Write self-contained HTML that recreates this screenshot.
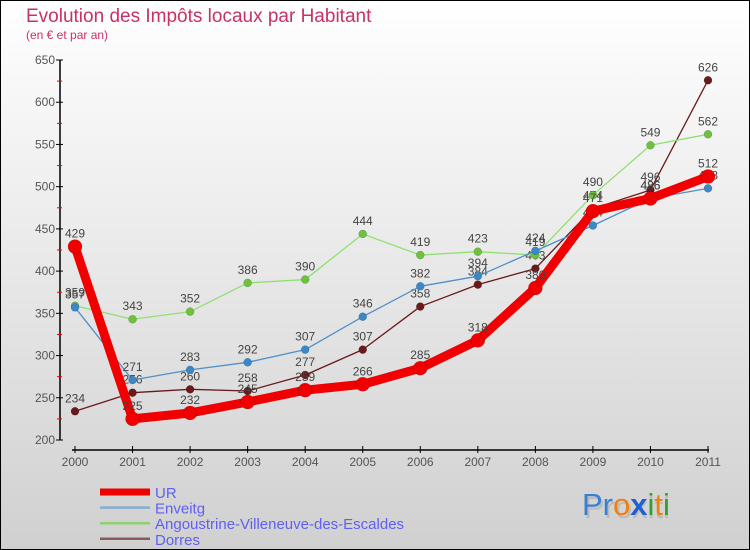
<!DOCTYPE html>
<html><head><meta charset="utf-8"><style>
body{margin:0;}
#c{width:750px;height:550px;position:relative;overflow:hidden;}
svg text{font-family:"Liberation Sans",sans-serif;}
</style></head><body>
<div id="c">
<svg id="s" width="750" height="550" xmlns="http://www.w3.org/2000/svg">
<defs><linearGradient id="bg" x1="0" y1="0" x2="0" y2="1"><stop offset="0" stop-color="#ffffff"/><stop offset="1" stop-color="#d0d0d0"/></linearGradient></defs>
<rect x="0.5" y="0.5" width="749" height="549" fill="url(#bg)" stroke="#000"/>
<text x="26" y="22" font-size="19" fill="#c8306a">Evolution des Impôts locaux par Habitant</text>
<text x="26" y="39" font-size="12" fill="#c8306a">(en € et par an)</text>
<g id="axes"></g><g id="series"></g><g id="legend"></g>
<g font-size="31" font-family="Liberation Sans">
<text x="584" y="518" fill="#999" opacity="0.4">Proxiti</text>
<text x="582" y="515"><tspan fill="#3a7fd0">Pr</tspan><tspan fill="#f08010">o</tspan><tspan fill="#2060d0" font-weight="bold">x</tspan><tspan fill="#30a030">i</tspan><tspan fill="#f08010">t</tspan><tspan fill="#30a030">i</tspan></text>
</g>
</svg></div>
<script>
const years=["2000","2001","2002","2003","2004","2005","2006","2007","2008","2009","2010","2011"];
const yTicks=[200,250,300,350,400,450,500,550,600,650];
const urValues=[429,225,232,245,259,266,285,318,380,471,486,512];
const enveitgValues=[357,271,283,292,307,346,382,394,424,454,486,498];
const angoustrineValues=[359,343,352,386,390,444,419,423,419,490,549,562];
const dorresValues=[234,256,260,258,277,307,358,384,403,474,496,626];
const NS="http://www.w3.org/2000/svg";
function xs(i){return 75+i*(708-75)/11;}
function ys(v){return 440-(v-200)*380/450;}
function mk(tag,attrs,parent){const e=document.createElementNS(NS,tag);for(const k in attrs)e.setAttribute(k,attrs[k]);parent.appendChild(e);return e;}
const axes=document.getElementById('axes');
let yl=mk('line',{x1:60,y1:60,x2:60,y2:440,stroke:'#000','stroke-width':1.5},axes);


yTicks.forEach(v=>{
 let t=mk('line',{x1:56,x2:63,y1:ys(v),y2:ys(v),stroke:'#000'},axes);
 
 
 if(v<650){let m=mk('line',{x1:57,x2:62,y1:ys(v+25),y2:ys(v+25),stroke:'#e00'},axes);
 
 }
 let l=mk('text',{x:55,y:ys(v)+4,'font-size':12,fill:'#555','text-anchor':'end'},axes);
 l.textContent=v;
 
 
});
let xl=mk('line',{x1:72,y1:450,x2:709,y2:450,stroke:'#000','stroke-width':1.5},axes);


years.forEach((y,i)=>{
 let t=mk('line',{x1:xs(i),x2:xs(i),y1:446,y2:453,stroke:'#000'},axes);
 
 
 let l=mk('text',{x:xs(i),y:466,'font-size':12,fill:'#555','text-anchor':'middle'},axes);
 l.textContent=y;
 
 
});
const series=[
 {name:'dorres',label:'Dorres',vals:dorresValues,color:'#6a1a1a',lc:'#8a5a5a',w:1.3,r:4},
 {name:'angoustrine',label:'Angoustrine-Villeneuve-des-Escaldes',vals:angoustrineValues,color:'#90e070',lc:'#90d070',mc:'#70c040',w:1.3,r:4},
 {name:'enveitg',label:'Enveitg',vals:enveitgValues,color:'#5090c8',lc:'#80b0d0',mc:'#3a88c8',w:1.3,r:4},
 {name:'ur',label:'UR',vals:urValues,color:'#f00000',lc:'#f00000',w:9,r:7}
];
const sg=document.getElementById('series');
series.forEach(s=>{
 const g=mk('g',{},sg);
 
 
 const p=mk('polyline',{points:s.vals.map((v,i)=>xs(i)+','+ys(v)).join(' '),fill:'none',stroke:s.color,'stroke-width':s.w,'stroke-linejoin':'round'},g);
 
 
 s.vals.forEach((v,i)=>{
  const c=mk('circle',{cx:xs(i),cy:ys(v),r:s.r,fill:s.mc||s.color,stroke:'rgba(0,0,0,0.25)','stroke-width':0.5},g);
  
  
  const t=mk('text',{x:xs(i),y:ys(v)-9,'font-size':12,fill:'#444','text-anchor':'middle'},g);
  t.textContent=v;
  
  
 });
});
const lg=document.getElementById('legend');
const order=[series[3],series[2],series[1],series[0]];
order.forEach((s,i)=>{
 const y=492+i*15.6;
 const g=mk('g',{},lg);
 
 
 mk('line',{x1:100,x2:150,y1:y,y2:y,stroke:s.lc,'stroke-width':s.name==='ur'?7:2.5},g);
 const t=mk('text',{x:155,y:y+6,'font-size':15,fill:'#6060f0'},g);
 t.textContent=s.label;
});
</script>
</body></html>
